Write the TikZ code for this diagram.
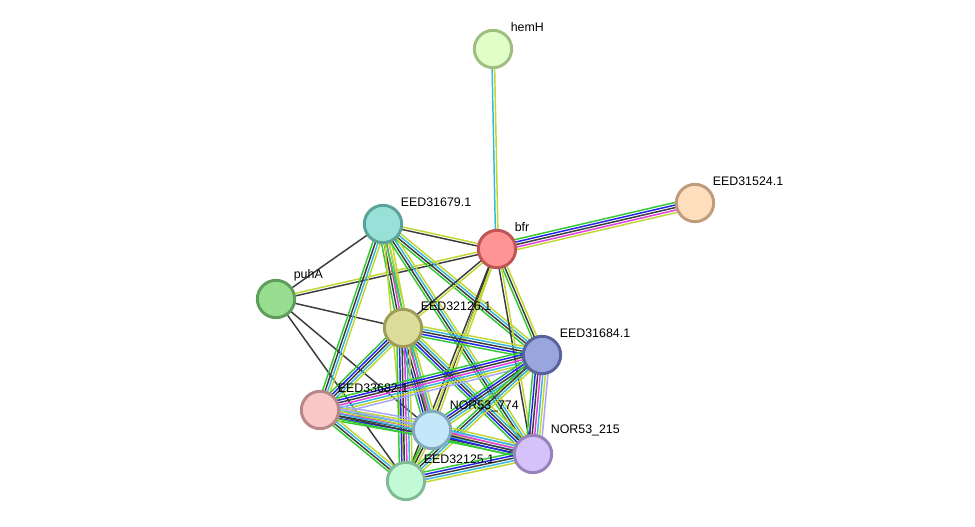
\documentclass[tikz,border=0pt]{standalone}
\usepackage{fontspec}
\setmainfont{Liberation Sans}
\usepackage{tikz}
\usetikzlibrary{calc,backgrounds}

% evidence channel colours
\definecolor{nbhood}{HTML}{33C933}
\definecolor{cooccur}{HTML}{2323F0}
\definecolor{coexpr}{HTML}{3C3C3C}
\definecolor{expts}{HTML}{E03CE0}
\definecolor{dbase}{HTML}{36B8DA}
\definecolor{txtmine}{HTML}{C2D630}
\definecolor{homol}{HTML}{A6A6FA}

% one bundle of parallel lines between two proteins
\newcommand{\ppilink}[3]{%
  \foreach \col [count=\k] in {#3} {\xdef\nlines{\k}}%
  \foreach \col [count=\i] in {#3} {%
    \pgfmathsetmacro{\off}{(\i-(\nlines+1)/2)*1.9}%
    \draw[edge, \col] ($(#1)!\off pt!90:(#2)$) -- ($(#2)!\off pt!-90:(#1)$);%
  }%
}

\begin{document}
\begin{tikzpicture}[x=0.75pt, y=-0.75pt]

    % Define styles
    \tikzstyle{protein} = [circle, line width=2.2pt, minimum size=28pt, inner sep=0pt]
    \tikzstyle{lbl} = [font=\fontsize{9.3}{11}\selectfont, label distance=0pt, inner sep=2.5pt]
    \tikzstyle{edge} = [line width=1.1pt]

    \useasboundingbox (0,0) rectangle (975,527);

    % Proteins
    \node [protein, fill={rgb,255:red,224;green,255;blue,200}, draw={rgb,255:red,160;green,190;blue,128},
           label={[lbl]45:hemH}] (hemH) at (493,49) {};
    \node [protein, fill={rgb,255:red,255;green,222;blue,190}, draw={rgb,255:red,190;green,155;blue,122},
           label={[lbl]45:EED31524.1}] (eed31524) at (695,203) {};
    \node [protein, fill={rgb,255:red,153;green,224;blue,216}, draw={rgb,255:red,90;green,163;blue,154},
           label={[lbl]45:EED31679.1}] (eed31679) at (383,224) {};
    \node [protein, fill={rgb,255:red,255;green,148;blue,148}, draw={rgb,255:red,192;green,85;blue,85},
           label={[lbl]45:bfr}] (bfr) at (497,249) {};
    \node [protein, fill={rgb,255:red,153;green,221;blue,144}, draw={rgb,255:red,94;green,158;blue,90},
           label={[lbl]45:puhA}] (puhA) at (276,299) {};
    \node [protein, fill={rgb,255:red,221;green,221;blue,153}, draw={rgb,255:red,158;green,158;blue,90},
           label={[lbl]45:EED32126.1}] (eed32126) at (403,328) {};
    \node [protein, fill={rgb,255:red,153;green,166;blue,221}, draw={rgb,255:red,90;green,98;blue,158},
           label={[lbl]45:EED31684.1}] (eed31684) at (542,355) {};
    \node [protein, fill={rgb,255:red,248;green,200;blue,200}, draw={rgb,255:red,184;green,136;blue,136},
           label={[lbl]45:EED33682.1}] (eed33682) at (320,410) {};
    \node [protein, fill={rgb,255:red,194;green,232;blue,250}, draw={rgb,255:red,130;green,168;blue,186},
           label={[lbl]45:NOR53\_774}] (nor774) at (432,430) {};
    \node [protein, fill={rgb,255:red,213;green,194;blue,250}, draw={rgb,255:red,151;green,130;blue,186},
           label={[lbl]45:NOR53\_215}] (nor215) at (533,454) {};
    \node [protein, fill={rgb,255:red,194;green,250;blue,216}, draw={rgb,255:red,130;green,186;blue,152},
           label={[lbl]45:EED32125.1}] (eed32125) at (406,481) {};

    % Interactions
    \begin{scope}[on background layer]
    \ppilink{hemH}{bfr}{dbase,txtmine}
    \ppilink{eed31524}{bfr}{nbhood,cooccur,coexpr,expts,txtmine}
    \ppilink{eed31679}{bfr}{coexpr,txtmine}
    \ppilink{puhA}{eed31679}{coexpr}
    \ppilink{puhA}{bfr}{coexpr,txtmine}
    \ppilink{puhA}{eed32126}{coexpr}
    \ppilink{puhA}{nor774}{coexpr}
    \ppilink{puhA}{eed32125}{coexpr}

    \ppilink{eed31679}{eed32126}{nbhood,coexpr,expts,dbase,txtmine}
    \ppilink{eed31679}{eed33682}{nbhood,coexpr,dbase,txtmine}
    \ppilink{eed31679}{eed31684}{nbhood,coexpr,dbase,txtmine}
    \ppilink{eed31679}{nor215}{nbhood,coexpr,dbase,txtmine}
    \ppilink{eed31679}{nor774}{nbhood,txtmine}
    \ppilink{eed31679}{eed32125}{txtmine}

    \ppilink{bfr}{eed32126}{coexpr,txtmine}
    \ppilink{bfr}{eed31684}{nbhood,coexpr,txtmine}
    \ppilink{bfr}{nor215}{coexpr,txtmine}
    \ppilink{bfr}{nor774}{coexpr,txtmine}
    \ppilink{bfr}{eed32125}{coexpr,txtmine}

    \ppilink{eed32126}{eed31684}{nbhood,cooccur,coexpr,dbase,txtmine}
    \ppilink{eed32126}{eed33682}{nbhood,cooccur,coexpr,dbase,txtmine}
    \ppilink{eed32126}{nor774}{nbhood,cooccur,coexpr,expts,dbase,txtmine}
    \ppilink{eed32126}{nor215}{nbhood,cooccur,coexpr,dbase,txtmine}
    \ppilink{eed32126}{eed32125}{nbhood,cooccur,coexpr,expts,dbase,txtmine}

    \ppilink{eed31684}{eed33682}{nbhood,cooccur,coexpr,expts,dbase,txtmine,homol}
    \ppilink{eed31684}{nor774}{nbhood,cooccur,coexpr,dbase,txtmine}
    \ppilink{eed31684}{nor215}{nbhood,cooccur,coexpr,expts,dbase,txtmine,homol}
    \ppilink{eed31684}{eed32125}{nbhood,coexpr,dbase,txtmine}

    \ppilink{eed33682}{nor774}{nbhood,cooccur,coexpr,expts,dbase,txtmine,homol}
    \ppilink{eed33682}{nor215}{nbhood,coexpr,dbase,txtmine,homol}
    \ppilink{eed33682}{eed32125}{nbhood,coexpr,dbase,txtmine}

    \ppilink{nor774}{nor215}{nbhood,cooccur,coexpr,expts,dbase,txtmine}
    \ppilink{nor774}{eed32125}{nbhood,coexpr,txtmine}
    \ppilink{nor215}{eed32125}{nbhood,cooccur,coexpr,dbase,txtmine}
    \end{scope}

\end{tikzpicture}
\end{document}
